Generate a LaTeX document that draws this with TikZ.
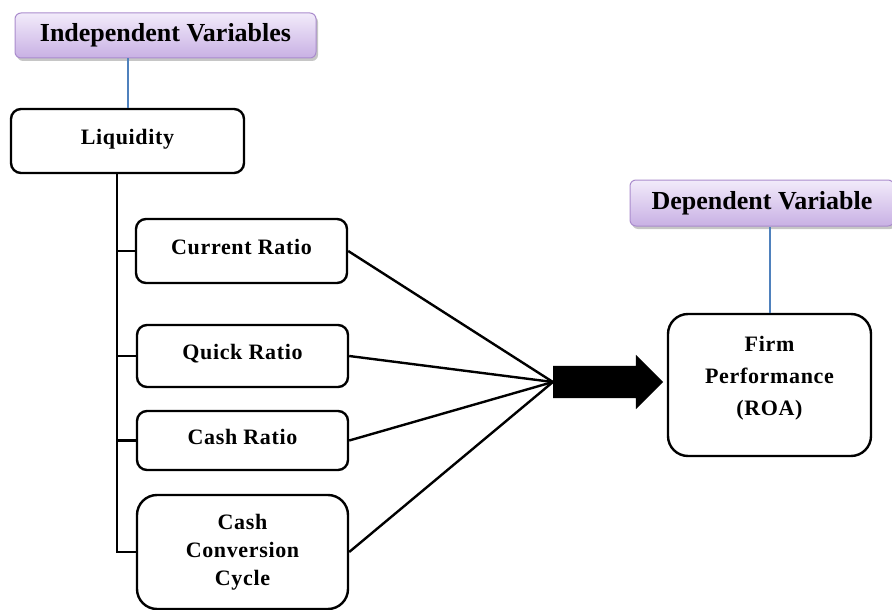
\documentclass[tikz,border=0pt]{standalone}
\usepackage{fontspec}
\setmainfont{Liberation Serif}
\newfontfamily\boxfont[LetterSpace=3]{Liberation Serif}
\usetikzlibrary{shapes.arrows,shadows}
\definecolor{headtop}{RGB}{242,235,250}
\definecolor{headbot}{RGB}{200,176,228}
\definecolor{headline}{RGB}{170,140,205}
\definecolor{linkblue}{RGB}{79,129,189}
\tikzset{
  base/.style={font=\boxfont\bfseries\fontsize{22}{28}\selectfont, align=center, inner sep=0pt, text=black},
  box/.style={base, rectangle, rounded corners=10pt, draw=black, fill=white, line width=2.4pt},
  onebox/.style={box, text height=15pt, text depth=8pt},
  bigbox/.style={box, rounded corners=20pt},
  head/.style={rectangle, rounded corners=6pt, draw=headline, top color=headtop, bottom color=headbot,
    line width=1pt, inner sep=0pt, font=\bfseries\fontsize{26}{30}\selectfont,
    drop shadow={shadow xshift=2pt, shadow yshift=-3pt, opacity=0.45}},
  wire/.style={line width=2.4pt, draw=black},
  link/.style={line width=2pt, draw=linkblue},
  bigarrow/.style={single arrow, fill=black, draw=none, inner sep=0pt, minimum height=110pt,
    text height=16pt, text depth=16pt, text width=0pt, single arrow head extend=11pt},
}
\begin{document}
\begin{tikzpicture}[x=1pt,y=-1pt]
  \useasboundingbox (0,0) rectangle (892,610);
  \clip (0,0) rectangle (892,610);
  % headers
  \node[head, minimum width=301pt, minimum height=45pt] (indep) at (165.5,35.5) {Independent Variables};
  \node[head, minimum width=264pt, minimum height=46pt] (dep) at (762,203) {Dependent Variable};
  % independent side
  \node[onebox, minimum width=233pt, minimum height=64pt] (liq) at (127.5,141) {Liquidity};
  \node[onebox, minimum width=211pt, minimum height=64pt] (cr) at (241.5,251) {Current Ratio};
  \node[onebox, minimum width=211pt, minimum height=62pt] (qr) at (242.5,356) {Quick Ratio};
  \node[onebox, minimum width=211pt, minimum height=59pt] (cash) at (242.5,440.5) {Cash Ratio};
  \node[bigbox, minimum width=211pt, minimum height=114pt] (ccc) at (242.5,552) {Cash\\Conversion\\Cycle};
  % dependent side
  \node[bigbox, minimum width=203pt, minimum height=142pt,
    label={[base, yshift=7pt, font=\boxfont\bfseries\fontsize{22}{32}\selectfont]center:Firm\\Performance\\(ROA)}] (firm) at (769.5,385) {};
  \draw[link] (liq.north) -- (liq.north |- indep.south);
  \draw[link] (firm.north) -- (firm.north |- dep.south);
  % spine and ticks
  \coordinate (spinetop) at ([xshift=-10.5pt]liq.south);
  \draw[wire] (spinetop) |- (ccc.west);
  \foreach \b in {cr,qr,cash}{\draw[wire] (\b.west) -- (\b.west -| spinetop);}
  % converging lines and arrow
  \node[bigarrow] (push) at (600,382) {};
  \foreach \b in {cr,qr,cash,ccc}{\draw[wire] (\b.east) -- (push.tail);}
\end{tikzpicture}
\end{document}
